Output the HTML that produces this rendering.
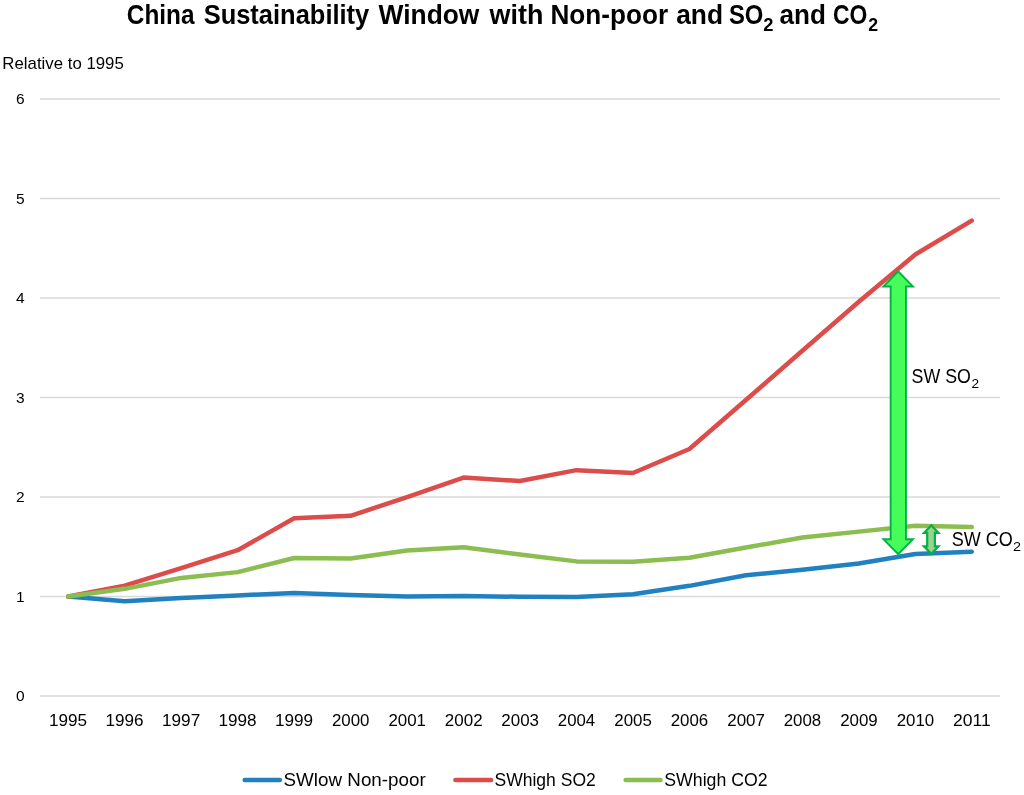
<!DOCTYPE html>
<html><head><meta charset="utf-8"><title>China Sustainability Window</title>
<style>
html,body{margin:0;padding:0;background:#fff;}
body{width:1024px;height:795px;overflow:hidden;}
svg{display:block;will-change:transform;}
text{font-family:"Liberation Sans", sans-serif;fill:#000;}
</style></head><body>
<svg width="1024" height="795" viewBox="0 0 1024 795">
<rect x="0" y="0" width="1024" height="795" fill="#fff"/>
<line x1="40.0" y1="696.00" x2="1000.0" y2="696.00" stroke="#D9D9D9" stroke-width="1.5"/>
<line x1="40.0" y1="596.50" x2="1000.0" y2="596.50" stroke="#D9D9D9" stroke-width="1.5"/>
<line x1="40.0" y1="497.00" x2="1000.0" y2="497.00" stroke="#D9D9D9" stroke-width="1.5"/>
<line x1="40.0" y1="397.50" x2="1000.0" y2="397.50" stroke="#D9D9D9" stroke-width="1.5"/>
<line x1="40.0" y1="298.00" x2="1000.0" y2="298.00" stroke="#D9D9D9" stroke-width="1.5"/>
<line x1="40.0" y1="198.50" x2="1000.0" y2="198.50" stroke="#D9D9D9" stroke-width="1.5"/>
<line x1="40.0" y1="99.00" x2="1000.0" y2="99.00" stroke="#D9D9D9" stroke-width="1.5"/>
<text x="24.7" y="701.20" font-size="15.5" text-anchor="end">0</text>
<text x="24.7" y="601.70" font-size="15.5" text-anchor="end">1</text>
<text x="24.7" y="502.20" font-size="15.5" text-anchor="end">2</text>
<text x="24.7" y="402.70" font-size="15.5" text-anchor="end">3</text>
<text x="24.7" y="303.20" font-size="15.5" text-anchor="end">4</text>
<text x="24.7" y="203.70" font-size="15.5" text-anchor="end">5</text>
<text x="24.7" y="104.20" font-size="15.5" text-anchor="end">6</text>
<text transform="translate(49.04,725.60) scale(1.0375,1)" font-size="16.5">1995</text>
<text transform="translate(105.51,725.60) scale(1.0375,1)" font-size="16.5">1996</text>
<text transform="translate(161.97,725.60) scale(1.0435,1)" font-size="16.5">1997</text>
<text transform="translate(218.45,725.60) scale(1.0375,1)" font-size="16.5">1998</text>
<text transform="translate(274.92,725.60) scale(1.0405,1)" font-size="16.5">1999</text>
<text transform="translate(331.92,725.60) scale(1.0227,1)" font-size="16.5">2000</text>
<text transform="translate(388.39,725.60) scale(1.0256,1)" font-size="16.5">2001</text>
<text transform="translate(444.86,725.60) scale(1.0286,1)" font-size="16.5">2002</text>
<text transform="translate(501.33,725.60) scale(1.0256,1)" font-size="16.5">2003</text>
<text transform="translate(557.81,725.60) scale(1.0169,1)" font-size="16.5">2004</text>
<text transform="translate(614.27,725.60) scale(1.0227,1)" font-size="16.5">2005</text>
<text transform="translate(670.74,725.60) scale(1.0227,1)" font-size="16.5">2006</text>
<text transform="translate(727.21,725.60) scale(1.0286,1)" font-size="16.5">2007</text>
<text transform="translate(783.68,725.60) scale(1.0227,1)" font-size="16.5">2008</text>
<text transform="translate(840.15,725.60) scale(1.0256,1)" font-size="16.5">2009</text>
<text transform="translate(896.63,725.60) scale(1.0227,1)" font-size="16.5">2010</text>
<text transform="translate(953.07,725.60) scale(1.0619,1)" font-size="16.5">2011</text>
<text transform="translate(2.33,69.20) scale(1.0511,1)" font-size="16">Relative to 1995</text>
<text transform="translate(126.81,24.40) scale(0.8968,1)" font-size="27.2" font-weight="bold">China</text>
<text transform="translate(203.65,24.40) scale(0.9369,1)" font-size="27.2" font-weight="bold">Sustainability</text>
<text transform="translate(378.60,24.40) scale(0.9692,1)" font-size="27.2" font-weight="bold">Window</text>
<text transform="translate(489.50,24.40) scale(0.9905,1)" font-size="27.2" font-weight="bold">with</text>
<text transform="translate(550.47,24.40) scale(0.9617,1)" font-size="27.2" font-weight="bold">Non-poor</text>
<text transform="translate(676.22,24.40) scale(0.9694,1)" font-size="27.2" font-weight="bold">and</text>
<text transform="translate(728.90,24.40) scale(0.8767,1)" font-size="27.2" font-weight="bold">SO</text>
<text transform="translate(779.53,24.40) scale(0.9584,1)" font-size="27.2" font-weight="bold">and</text>
<text transform="translate(833.07,24.40) scale(0.8416,1)" font-size="27.2" font-weight="bold">CO</text>
<text transform="translate(763.17,30.80) scale(1.0476,1)" font-size="17.5" font-weight="bold">2</text>
<text transform="translate(868.29,30.80) scale(1.0119,1)" font-size="17.5" font-weight="bold">2</text>
<polyline points="68.24,596.50 124.71,601.28 181.18,597.99 237.65,595.41 294.12,592.92 350.59,594.91 407.06,596.50 463.53,595.90 520.00,596.80 576.47,596.90 632.94,594.21 689.41,585.85 745.88,575.21 802.35,569.73 858.82,563.47 915.29,553.91 971.76,551.63" fill="none" stroke="#2080C0" stroke-width="4.5" stroke-linejoin="round" stroke-linecap="round"/>
<polyline points="68.24,596.50 124.71,585.65 181.18,568.14 237.65,550.23 294.12,518.29 350.59,515.81 407.06,497.10 463.53,477.60 520.00,480.98 576.47,470.13 632.94,473.02 689.41,449.04 745.88,399.99 802.35,350.73 858.82,301.78 915.29,254.52 971.76,220.69" fill="none" stroke="#DB4C4A" stroke-width="4.5" stroke-linejoin="round" stroke-linecap="round"/>
<polyline points="68.24,596.50 124.71,588.84 181.18,577.89 237.65,572.12 294.12,557.99 350.59,558.59 407.06,550.43 463.53,547.35 520.00,554.41 576.47,561.38 632.94,561.77 689.41,557.79 745.88,547.55 802.35,537.50 858.82,531.63 915.29,525.76 971.76,526.95" fill="none" stroke="#8CBD50" stroke-width="4.5" stroke-linejoin="round" stroke-linecap="round"/>
<path d="M898.20,269.90 L915.20,287.40 L906.90,287.40 L906.90,538.25 L915.20,538.25 L898.20,555.40 L881.20,538.25 L889.70,538.25 L889.70,287.40 L881.20,287.40 Z" fill="#00B247"/>
<path d="M898.20,272.63 L910.71,285.50 L905.00,285.50 L905.00,540.15 L910.64,540.15 L898.20,552.70 L885.76,540.15 L891.60,540.15 L891.60,285.50 L885.69,285.50 Z" fill="#46FC58"/>
<path d="M931.30,523.80 L941.00,534.00 L936.00,534.00 L936.00,545.30 L941.00,545.30 L931.30,555.50 L921.40,545.30 L926.10,545.30 L926.10,534.00 L921.40,534.00 Z" fill="#00B247"/>
<path d="M931.28,526.98 L935.87,531.80 L933.80,531.80 L933.80,547.50 L935.87,547.50 L931.28,552.32 L926.60,547.50 L928.30,547.50 L928.30,531.80 L926.60,531.80 Z" fill="#9AD38C"/>
<text transform="translate(911.58,383.10) scale(0.9128,1)" font-size="19.5">SW SO</text>
<text transform="translate(971.49,388.30) scale(1.0164,1)" font-size="13.5">2</text>
<text transform="translate(951.67,546.00) scale(0.9252,1)" font-size="19.5">SW CO</text>
<text transform="translate(1012.95,551.40) scale(1.0656,1)" font-size="13.5">2</text>
<line x1="244.7" y1="780" x2="279.9" y2="780" stroke="#2080C0" stroke-width="4.5" stroke-linecap="round"/>
<text transform="translate(283.56,785.90) scale(1.0452,1)" font-size="18">SWlow Non-poor</text>
<line x1="455.4" y1="780" x2="491.1" y2="780" stroke="#DB4C4A" stroke-width="4.5" stroke-linecap="round"/>
<text transform="translate(494.52,785.90) scale(0.9736,1)" font-size="18">SWhigh SO2</text>
<line x1="625.6" y1="780" x2="660.5" y2="780" stroke="#8CBD50" stroke-width="4.5" stroke-linecap="round"/>
<text transform="translate(664.21,785.90) scale(0.9855,1)" font-size="18">SWhigh CO2</text>
</svg>
</body></html>
